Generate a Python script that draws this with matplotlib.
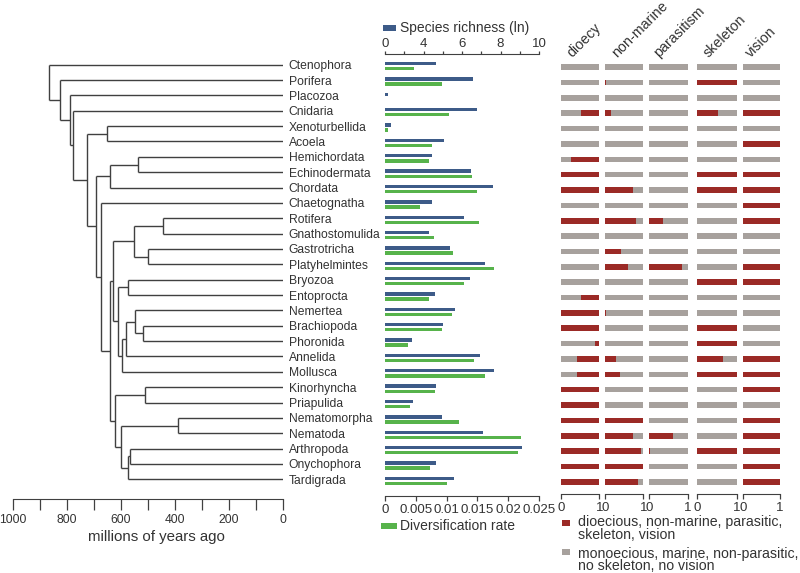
#!/usr/bin/env python3
"""Metazoan phylogeny with species richness, diversification rate and trait bars."""
import numpy as np
import matplotlib

matplotlib.use("Agg")
import matplotlib.pyplot as plt  # noqa: E402
from matplotlib.patches import Rectangle  # noqa: E402

plt.rcParams["font.family"] = ["Liberation Sans", "DejaVu Sans"]

W, H = 800, 573
TXT = "#333333"
LINE = "#404040"
BLUE = "#3d5b88"
GREEN = "#57b34b"
RED = "#9b2a26"
GRAY = "#a7a19d"

taxa = ["Ctenophora", "Porifera", "Placozoa", "Cnidaria", "Xenoturbellida",
        "Acoela", "Hemichordata", "Echinodermata", "Chordata", "Chaetognatha",
        "Rotifera", "Gnathostomulida", "Gastrotricha", "Platyhelmintes",
        "Bryozoa", "Entoprocta", "Nemertea", "Brachiopoda", "Phoronida",
        "Annelida", "Mollusca", "Kinorhyncha", "Priapulida", "Nematomorpha",
        "Nematoda", "Arthropoda", "Onychophora", "Tardigrada"]

# internal nodes: (name, children, age in Ma)
clades = [
    ("Metazoa", ["Ctenophora", "c2"], 867),
    ("c2", ["Porifera", "c3"], 827),
    ("c3", ["Placozoa", "c4"], 788),
    ("c4", ["Cnidaria", "Bilateria"], 779),
    ("Bilateria", ["Xenacoelomorpha", "Nephrozoa"], 724),
    ("Xenacoelomorpha", ["Xenoturbellida", "Acoela"], 651),
    ("Nephrozoa", ["Deuterostomia", "Protostomia"], 693),
    ("Deuterostomia", ["Ambulacraria", "Chordata"], 640),
    ("Ambulacraria", ["Hemichordata", "Echinodermata"], 537),
    ("Protostomia", ["Chaetognatha", "c_se"], 673),
    ("c_se", ["Spiralia", "Ecdysozoa"], 639),
    ("Spiralia", ["Platyzoa", "Lophotrochozoa"], 629),
    ("Platyzoa", ["Gnathifera", "Rouphozoa"], 553),
    ("Gnathifera", ["Rotifera", "Gnathostomulida"], 444),
    ("Rouphozoa", ["Gastrotricha", "Platyhelmintes"], 500),
    ("Lophotrochozoa", ["Polyzoa", "Trochozoa"], 612),
    ("Polyzoa", ["Bryozoa", "Entoprocta"], 574),
    ("Trochozoa", ["c_an", "Mollusca"], 596),
    ("c_an", ["c_nem", "Annelida"], 580),
    ("c_nem", ["Nemertea", "Brachiozoa"], 547),
    ("Brachiozoa", ["Brachiopoda", "Phoronida"], 518),
    ("Ecdysozoa", ["Scalidophora", "c_np"], 621),
    ("Scalidophora", ["Kinorhyncha", "Priapulida"], 512),
    ("c_np", ["Nematoida", "Panarthropoda"], 600),
    ("Nematoida", ["Nematomorpha", "Nematoda"], 389),
    ("Panarthropoda", ["c_ao", "Tardigrada"], 575),
    ("c_ao", ["Arthropoda", "Onychophora"], 568),
]

# species richness, in units of the top axis (0..10)
richness = [3.28, 5.70, 0.19, 6.00, 0.41, 3.80, 3.07, 5.59, 7.04, 3.07,
            5.10, 2.87, 4.21, 6.48, 5.49, 3.26, 4.56, 3.78, 1.75, 6.18,
            7.08, 3.30, 1.84, 3.67, 6.39, 8.90, 3.28, 4.45]
rich_ticks = [0, 1.25, 2.5, 3.75, 5, 6.25, 7.5, 8.75, 10]
rich_labels = ["0", "", "4", "", "6", "", "8", "", "10"]

rate = [0.00478, 0.00929, 0.0, 0.01043, 0.00049, 0.00755, 0.00712, 0.01408,
        0.01500, 0.00571, 0.01522, 0.00799, 0.01098, 0.01766, 0.01283,
        0.00712, 0.01087, 0.00929, 0.00380, 0.01446, 0.01625, 0.00810,
        0.00413, 0.01201, 0.02212, 0.02163, 0.00728, 0.01011]
rate_ticks = [0, 0.005, 0.01, 0.015, 0.02, 0.025]
rate_labels = ["0", "0.005", "0.01", "0.015", "0.02", "0.025"]

# fraction of species with the state: dioecious, non-marine, parasitic, skeleton, vision
trait_names = ["dioecy", "non-marine", "parasitism", "skeleton", "vision"]
dioecy = [0, 0, 0, 0.48, 0, 0, 0.75, 1, 1, 0, 1, 0, 0, 0, 0, 0.49, 1, 1,
          0.11, 0.57, 0.59, 1, 1, 1, 1, 1, 1, 1]
non_marine = [0, 0.03, 0, 0.15, 0, 0, 0, 0, 0.73, 0, 0.81, 0, 0.40, 0.60, 0,
              0, 0.03, 0, 0, 0.28, 0.39, 0, 0, 1, 0.72, 0.93, 1, 0.85]
parasitism = [0, 0, 0, 0, 0, 0, 0, 0, 0, 0, 0.35, 0, 0, 0.86, 0, 0, 0, 0,
              0, 0, 0, 0, 0, 0, 0.61, 0.03, 0, 0]
skeleton = [0, 1, 0, 0.52, 0, 0, 0, 1, 1, 0, 0, 0, 0, 0, 1, 0, 0, 1, 1,
            0.65, 1, 0, 0, 0, 0, 1, 0, 0]
vision = [0, 0, 0, 1, 0, 1, 0, 1, 1, 1, 1, 0, 0, 1, 1, 0, 0, 0, 0, 1, 1,
          1, 0, 1, 1, 1, 1, 1]
traits = [dioecy, non_marine, parasitism, skeleton, vision]
trait_cols = [(561, 599.3), (605.3, 643.3), (649.3, 687.7), (696.7, 736.7), (743, 780)]
trait_label_x = [572, 617, 659, 709, 751]


def rect(x0, y0, x1, y1):
    """pixel box (top-left origin) -> figure fraction rect"""
    return [x0 / W, 1 - y1 / H, (x1 - x0) / W, (y1 - y0) / H]


def pt(px):
    return px * 72 / 100


def fig_xy(x, y):
    return x / W, 1 - y / H


def style_bottom(ax, offset_px, ticklen_px, pad):
    for s in ("left", "right", "top"):
        ax.spines[s].set_visible(False)
    ax.spines["bottom"].set_position(("outward", pt(offset_px)))
    ax.spines["bottom"].set_color(LINE)
    ax.tick_params(axis="x", which="both", length=pt(ticklen_px), width=0.9,
                   color=LINE, labelcolor=TXT, pad=pad)
    ax.set_yticks([])


fig = plt.figure(figsize=(W / 100, H / 100), dpi=100)
n = len(taxa)
ylim = (n - 0.5, -0.5)

# ---- tree ----
ax = fig.add_axes(rect(12.8, 57.0, 283, 487.0))
ypos = {t: i for i, t in enumerate(taxa)}
age = {t: 0 for t in taxa}
for name, kids, a in reversed(clades):
    ypos[name] = np.mean([ypos[k] for k in kids])
    age[name] = a
for name, kids, a in clades:
    ys = [ypos[k] for k in kids]
    ax.plot([a, a], [min(ys), max(ys)], color=LINE, lw=1.0, solid_capstyle="butt")
    for k in kids:
        ax.plot([a, age[k]], [ypos[k], ypos[k]], color=LINE, lw=1.0,
                solid_capstyle="butt")
ax.set_xlim(1000, 0)
ax.set_ylim(*ylim)
style_bottom(ax, 12.3, 10.5, 3)
ax.set_xticks(range(0, 1001, 200))
ax.set_xticks(range(100, 1000, 200), minor=True)
ax.tick_params(axis="x", labelsize=8.7)
ax.set_xlabel("millions of years ago", fontsize=10.8, color=TXT)
ax.xaxis.set_label_coords(0.53, -0.099)
ax.yaxis.tick_right()
ax.set_yticks(range(n))
ax.set_yticklabels(taxa, fontsize=8.7, color=TXT)
ax.tick_params(axis="y", length=0, pad=pt(5.7))
ax.patch.set_visible(False)

# ---- richness / diversification bars ----
axr = fig.add_axes(rect(385, 58.5, 539, 488.5))
y = np.arange(n)
axr.barh(y + 0.165, rate, height=0.22, color=GREEN, linewidth=0)
axr.set_xlim(0, 0.025)
axr.set_ylim(*ylim)
style_bottom(axr, 7.5, 5, 2)
axr.set_xticks(rate_ticks)
axr.set_xticklabels(rate_labels, fontsize=9.5)
axr.patch.set_visible(False)

axs = axr.twiny()
axs.barh(y - 0.165, richness, height=0.22, color=BLUE, linewidth=0)
axs.set_xlim(0, 10)
axs.set_ylim(*ylim)
for s in ("left", "right", "bottom"):
    axs.spines[s].set_visible(False)
axs.spines["top"].set_position(("outward", pt(4.5)))
axs.spines["top"].set_color(LINE)
axs.set_xticks(rich_ticks)
axs.set_xticklabels(rich_labels, fontsize=9.5)
axs.tick_params(axis="x", length=pt(3.5), width=0.9, color=LINE,
                labelcolor=TXT, pad=0.3)

# ---- trait bars ----
for k, (vals, (x0, x1)) in enumerate(zip(traits, trait_cols)):
    axt = fig.add_axes(rect(x0, 59.5, x1, 489.5))
    v = np.asarray(vals, float)
    axt.barh(y, np.ones(n), height=0.36, color=GRAY, linewidth=0)
    if k == 0:  # dioecy: monoecious fraction drawn first
        axt.barh(y, v, left=1 - v, height=0.36, color=RED, linewidth=0)
    else:
        axt.barh(y, v, height=0.36, color=RED, linewidth=0)
    axt.set_xlim(0, 1)
    axt.set_ylim(*ylim)
    style_bottom(axt, 4.8, 5, 1.8)
    axt.set_xticks([0, 1])
    axt.set_xticklabels(["0", "1"], fontsize=9.5)
    axt.patch.set_visible(False)
    fig.text(*fig_xy(trait_label_x[k], 58), trait_names[k], rotation=45,
             rotation_mode="anchor", ha="left", va="baseline",
             fontsize=10.3, color=TXT)

# ---- legends ----
def patch(x0, y0, x1, y1, c):
    fx, fy = fig_xy(x0, y1)
    fig.add_artist(Rectangle((fx, fy), (x1 - x0) / W, (y1 - y0) / H,
                             transform=fig.transFigure, color=c, lw=0))


patch(382.5, 25, 396, 31, BLUE)
fig.text(*fig_xy(399.5, 28.3), "Species richness (ln)", fontsize=10,
         color=TXT, va="center", ha="left")
patch(381, 523, 397, 529, GREEN)
fig.text(*fig_xy(400, 526), "Diversification rate", fontsize=10,
         color=TXT, va="center", ha="left")
patch(562, 520, 570, 526, RED)
fig.text(*fig_xy(577.5, 528.5), "dioecious, non-marine, parasitic,\nskeleton, vision",
         fontsize=10.2, color=TXT, va="center", ha="left", linespacing=0.9)
patch(562, 549, 570, 555, GRAY)
fig.text(*fig_xy(577.5, 560), "monoecious, marine, non-parasitic,\nno skeleton, no vision",
         fontsize=10.2, color=TXT, va="center", ha="left", linespacing=0.9)

fig.savefig("out.png", dpi=100)
